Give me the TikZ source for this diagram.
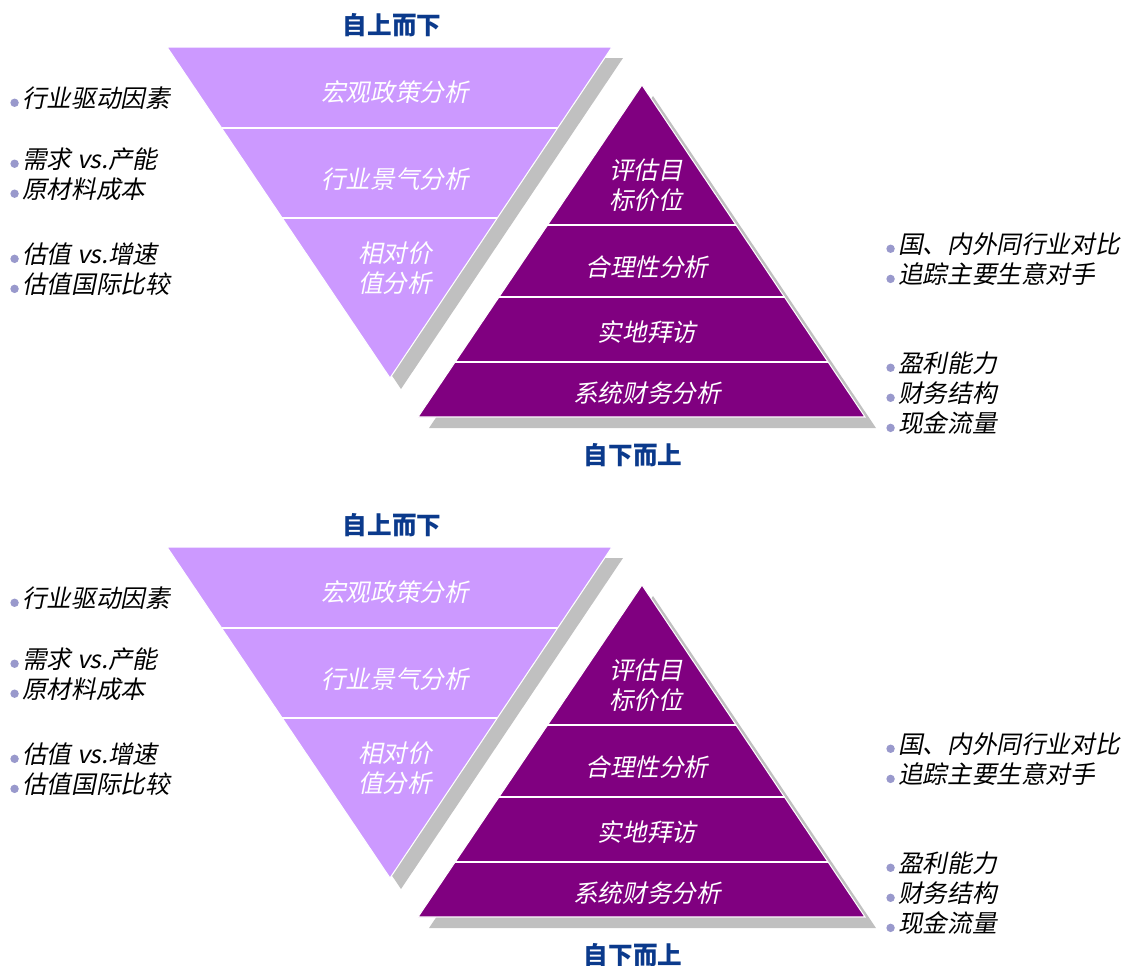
\documentclass[tikz,border=0pt]{standalone}
\usepackage{fontspec}
\setmainfont{Noto Sans CJK SC}
\newfontfamily\cjkit[FakeSlant=0.2]{Noto Sans CJK SC}
\usetikzlibrary{calc}
\definecolor{lilac}{HTML}{CC99FF}
\definecolor{plum}{HTML}{800080}
\definecolor{shadowgray}{HTML}{C0C0C0}
\definecolor{navy}{HTML}{0B3A8C}
\definecolor{dotc}{HTML}{9999CC}
\newcommand\itemdot{\tikz[baseline=0pt]\fill[dotc] (0pt,2.6pt) circle (2.4pt);\hspace{2pt}}
\tikzset{
  tier/.style={font=\cjkit\fontsize{14}{17}\selectfont, text=white, align=center},
  item/.style={font=\cjkit\fontsize{14}{17}\selectfont, anchor=west, inner sep=0pt},
  heading/.style={font=\bfseries\fontsize{14}{17}\selectfont, text=navy},
  divider/.style={white, line width=0.9pt}
}
\begin{document}
\begin{tikzpicture}[x=0.02cm, y=-0.02cm]
    \useasboundingbox (0,0) rectangle (1129,965);
    \foreach \k/\yo in {a/0,b/500}{
    \begin{scope}[shift={(0,\yo)}]
    % top down
    \coordinate (L\k) at (167,47);
    \coordinate (R\k) at (612,47);
    \coordinate (V\k) at (390,378);
    \fill[shadowgray] ($(L\k)+(11,11)$) -- ($(R\k)+(11,11)$) -- ($(V\k)+(11,11)$) -- cycle;
    \filldraw[fill=lilac, draw=white, line width=0.6pt] (L\k) -- (R\k) -- (V\k) -- cycle;
    \draw[divider] ($(L\k)!0.245!(V\k)$) -- ($(R\k)!0.245!(V\k)$);
    \draw[divider] ($(L\k)!0.517!(V\k)$) -- ($(R\k)!0.517!(V\k)$);
    \node[tier] (macro\k) at (395,92) {宏观政策分析};
    \node[tier] (sector\k) at (395,179) {行业景气分析};
    \node[tier] (relval\k) at (395,268) {相对价\\值分析};
    \node[heading] (down\k) at (392,25) {自上而下};
    % bottom up
    \coordinate (A\k) at (642,85);
    \coordinate (P\k) at (418,417);
    \coordinate (Q\k) at (865,417);
    \fill[shadowgray] ($(A\k)+(11,11)$) -- ($(P\k)+(11,11)$) -- ($(Q\k)+(11,11)$) -- cycle;
    \filldraw[fill=plum, draw=white, line width=0.6pt] (A\k) -- (P\k) -- (Q\k) -- cycle;
    \draw[divider] ($(A\k)!0.422!(P\k)$) -- ($(A\k)!0.422!(Q\k)$);
    \draw[divider] ($(A\k)!0.639!(P\k)$) -- ($(A\k)!0.639!(Q\k)$);
    \draw[divider] ($(A\k)!0.834!(P\k)$) -- ($(A\k)!0.834!(Q\k)$);
    \node[tier] (target\k) at (646,185) {评估目\\标价位};
    \node[tier] (fair\k) at (647,267) {合理性分析};
    \node[tier] (visit\k) at (647,332) {实地拜访};
    \node[tier] (fin\k) at (647,393) {系统财务分析};
    \node[heading] (up\k) at (633,455) {自下而上};
    % left notes
    \node[item] (ln1\k) at (10,98) {\itemdot 行业驱动因素};
    \node[item] (ln2\k) at (10,159) {\itemdot 需求 vs.产能};
    \node[item] (ln3\k) at (10,189) {\itemdot 原材料成本};
    \node[item] (ln4\k) at (10,254) {\itemdot 估值 vs.增速};
    \node[item] (ln5\k) at (10,284) {\itemdot 估值国际比较};
    % right notes
    \node[item] (rn1\k) at (886,244) {\itemdot 国、内外同行业对比};
    \node[item] (rn2\k) at (886,274) {\itemdot 追踪主要生意对手};
    \node[item] (rn3\k) at (886,363) {\itemdot 盈利能力};
    \node[item] (rn4\k) at (886,393) {\itemdot 财务结构};
    \node[item] (rn5\k) at (886,423) {\itemdot 现金流量};
    \end{scope}
    }
\end{tikzpicture}
\end{document}
